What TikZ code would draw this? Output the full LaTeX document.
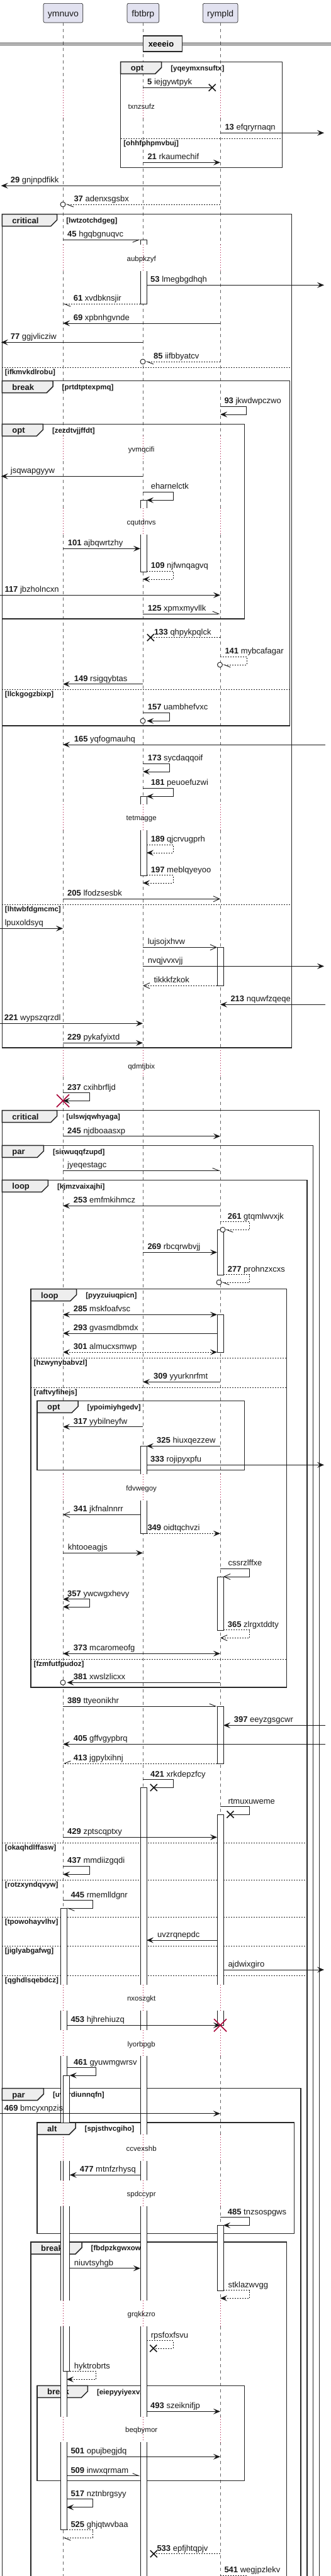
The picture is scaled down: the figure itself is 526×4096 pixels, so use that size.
\documentclass[tikz,border=0pt]{standalone}
\usepackage{fontspec}
\setmainfont{Liberation Sans}
\usetikzlibrary{arrows.meta}
\definecolor{partfill}{HTML}{E2E2F0}
\definecolor{tabfill}{HTML}{EEEEEE}
\definecolor{ink}{HTML}{181818}
\definecolor{delayred}{HTML}{A80036}
\newcounter{sqn}
\newcommand{\sqmsg}[6][]{\draw[msgln,#1] (#2,#4) -- (#3,#4);%
  \stepcounter{sqn}\node[msglbl] (m\arabic{sqn}) at (#5,#4-4.5) {#6};}
\newcommand{\sqself}[8][]{\draw[msgln,#1] (#2,#4) -- (#3,#4) -- (#3,#5) -- (#6,#5);%
  \stepcounter{sqn}\node[msglbl] (m\arabic{sqn}) at (#7,#4-4.5) {#8};}
\newcommand{\sqx}[2]{\draw[ink,line width=1.6pt] (#1-5.5,#2-5.5) -- (#1+5.5,#2+5.5) (#1-5.5,#2+5.5) -- (#1+5.5,#2-5.5);}
\newcommand{\sqkill}[2]{\draw[delayred,line width=1.6pt] (#1-10,#2-10) -- (#1+10,#2+10) (#1-10,#2+10) -- (#1+10,#2-10);}
\newcommand{\sqcirc}[2]{\draw[ink,line width=0.9pt,fill=white] (#1,#2) circle[radius=4];}
\newcommand{\sqdelay}[2]{\stepcounter{sqn}\node[dlbl] (d\arabic{sqn}) at (224.7,#1) {#2};}
\newcommand{\sqframe}[7]{\draw[frm] (#1,#2) rectangle (#3,#4);%
  \draw[frm,fill=tabfill] (#1,#2) -- (#1+#5,#2) -- (#1+#5,#2+9) -- (#1+#5-10,#2+19) -- (#1,#2+19) -- cycle;%
  \stepcounter{sqn}\node[tablbl] (t\arabic{sqn}) at (#1+16,#2+14.3) {#6};%
  \node[guardlbl] (g\arabic{sqn}) at (#1+#5+14.5,#2+13.7) {#7};}
\newcommand{\sqsep}[4]{\draw[sepline] (#1,#3) -- (#2,#3);%
  \stepcounter{sqn}\node[guardlbl] (s\arabic{sqn}) at (#1+4.5,#3+11) {#4};}
\newcommand{\actF}[3]{\draw[actbox,fill=white] (#1-5,#2) rectangle (#1+5,#3);}
\newcommand{\actT}[3]{\fill[white] (#1-5,#2) rectangle (#1+5,#3);\draw[actbox] (#1-5,#3) -- (#1-5,#2) -- (#1+5,#2) -- (#1+5,#3);}
\newcommand{\actB}[3]{\fill[white] (#1-5,#2) rectangle (#1+5,#3);\draw[actbox] (#1-5,#2) -- (#1-5,#3) -- (#1+5,#3) -- (#1+5,#2);}
\newcommand{\actN}[3]{\fill[white] (#1-5,#2) rectangle (#1+5,#3);\draw[actbox] (#1-5,#2) -- (#1-5,#3) (#1+5,#2) -- (#1+5,#3);}
\begin{document}
\begin{tikzpicture}[x=1pt,y=-1pt,
  msgln/.style={draw=ink,line width=0.9pt},
  dsh/.style={dash pattern=on 2pt off 2pt},
  hfull/.style={-{Stealth[length=11pt,width=9pt,inset=4.5pt]}},
  hopen/.style={-{Straight Barb[length=10pt,width=9pt]}},
  hhalfL/.style={-{Straight Barb[length=10pt,width=8pt,left]}},
  hhalfR/.style={-{Straight Barb[length=10pt,width=8pt,right]}},
  hboth/.style={{Stealth[length=11pt,width=9pt,inset=4.5pt]}-{Stealth[length=11pt,width=9pt,inset=4.5pt]}},
  msglbl/.style={anchor=base west,inner sep=0pt,font=\fontsize{13}{15}\selectfont,text=ink},
  guardlbl/.style={anchor=base west,inner sep=0pt,font=\fontsize{11.5}{13}\selectfont\bfseries,text=ink},
  tablbl/.style={anchor=base west,inner sep=0pt,font=\fontsize{13}{15}\selectfont\bfseries,text=ink},
  dlbl/.style={anchor=base,inner sep=0pt,font=\fontsize{11.5}{13}\selectfont,text=ink},
  frm/.style={draw=black!85,line width=1.5pt},
  sepline/.style={draw=black!85,line width=0.8pt,dash pattern=on 2pt off 2pt},
  lifeln/.style={draw=black!60,line width=0.7pt,dash pattern=on 5pt off 5pt},
  dly/.style={draw=delayred,line width=0.8pt,dash pattern=on 1pt off 3pt},
  actbox/.style={draw=ink,line width=0.9pt},
  partbox/.style={draw=ink,line width=0.6pt,fill=partfill,rounded corners=2.5pt,minimum height=30.7pt,inner sep=0pt},
  parttxt/.style={anchor=base,inner sep=0pt,font=\fontsize{14}{16}\selectfont,text=ink}]
\useasboundingbox (0,0) rectangle (526,4096);
\clip (0,0) rectangle (526,4096);
\fill[white] (0,0) rectangle (526,4096);
% participants
\node[partbox,minimum width=62.7pt] (ymnuvo) at (100.35,20.65) {};
\node[parttxt] (ymnuvoT) at (100.35,26) {ymnuvo};
\node[partbox,minimum width=50.7pt] (fbtbrp) at (227.35,20.65) {};
\node[parttxt] (fbtbrpT) at (227.35,26) {fbtbrp};
\node[partbox,minimum width=55.7pt] (rympld) at (350.15,20.65) {};
\node[parttxt] (rympldT) at (350.15,26) {rympld};
% lifelines
\foreach \lx in {100,227,350}{
  \foreach \ya/\yb in {36/143,188/389.3,430.7/693.3,733.3/808.3,850/1279.3,1320/1670,1712/2344.3,2386/3155.7,3196.7/3228,3269.3/3394.3,3436/3466.7,3508.3/3657.7,3699/3842.7,3883.3/4100}
    \draw[lifeln] (\lx,\ya) -- (\lx,\yb);
  \foreach \ya/\yb in {143/188,389.3/430.7,693.3/733.3,808.3/850,1279.3/1320,1670/1712,2344.3/2386,3155.7/3196.7,3228/3269.3,3394.3/3436,3466.7/3508.3,3657.7/3699,3842.7/3883.3}
    \draw[dly] (\lx,\ya) -- (\lx,\yb);
}
% divider
\draw[ink,line width=0.8pt] (0,68.7) -- (227.3,68.7) (289.7,68.7) -- (526,68.7) (0,71.3) -- (227.3,71.3) (289.7,71.3) -- (526,71.3);
\node[draw=black!85,line width=1.5pt,fill=tabfill,minimum width=62.4pt,minimum height=25pt,inner sep=0pt] (div) at (258.5,69.5) {};
\node[anchor=base,inner sep=0pt,font=\fontsize{13}{15}\selectfont\bfseries] (divT) at (256,74.5) {xeeeio};
% frames
\sqframe{191.7}{98.3}{448.7}{266.7}{65}{opt}{[yqeymxnsuftx]}
\sqsep{191.7}{448.7}{220.3}{[ohhfphpmvbuj]}
\sqframe{3.3}{340.7}{463.3}{1666}{87.4}{critical}{[lwtzotchdgeg]}
\sqsep{3.3}{463.3}{584.3}{[ifkmvkdlrobu]}
\sqsep{3.3}{463.3}{1438.3}{[lhtwbfdgmcmc]}
\sqframe{3.3}{605.7}{460.7}{1154}{80.7}{break}{[prtdtptexpmq]}
\sqsep{3.3}{460.7}{1096.3}{[llckgogzbixp]}
\sqframe{3.3}{674.3}{388.3}{984}{65}{opt}{[zezdtvjjffdt]}
\sqframe{3.3}{1765.7}{507.3}{4120}{87.4}{critical}{[ulswjqwhyaga]}
\sqframe{3.3}{1821.3}{497.3}{4120}{66}{par}{[sirwuqqfzupd]}
\sqframe{3.3}{1876.3}{488}{4120}{73}{loop}{[kjmzvaixajhi]}
\sqsep{3.3}{488}{2930.3}{[okaqhdlffasw]}
\sqsep{3.3}{488}{2989.3}{[rotzxyndqvyw]}
\sqsep{3.3}{488}{3048.3}{[tpowohayvlhv]}
\sqsep{3.3}{488}{3094}{[jiglyabgafwg]}
\sqsep{3.3}{488}{3141}{[qghdlsqebdcz]}
\sqframe{49}{2049.7}{455.7}{2683}{72.7}{loop}{[pyyzuiuqpicn]}
\sqsep{49}{455.7}{2159}{[hzwynybabvzl]}
\sqsep{49}{455.7}{2206}{[raftvyfihejs]}
\sqsep{49}{455.7}{2638}{[fzmfutfpudoz]}
\sqframe{59}{2227.3}{388.3}{2337.3}{65}{opt}{[ypoimiyhgedv]}
\sqframe{3.3}{3320.7}{478}{4120}{66}{par}{[uvurdiunnqfn]}
\sqframe{59}{3375}{467.3}{3551.7}{61}{alt}{[spjsthvcgiho]}
\sqframe{49}{3565}{455.7}{4120}{81}{break}{[fbdpzkgwxowh]}
\sqframe{59}{3793.3}{388.3}{3944.3}{80.3}{break}{[eiepyyiyexvz]}
% activations
\actT{228}{381.3}{389.3} \actB{228}{430.7}{483.3}
\actT{228}{795.3}{808.3} \actB{228}{850}{909.3}
\actT{228}{1266.3}{1279.3} \actB{228}{1320}{1392.3}
\actF{350}{1506.3}{1567.3}
\actF{350}{1955.3}{2027.3}
\actF{350}{2090.3}{2150}
\actT{228}{2299.3}{2344.3} \actB{228}{2386}{2438.3}
\actF{350}{2507}{2592}
\actF{350}{2713}{2804.3}
\actT{228}{2842.3}{3155.7} \actN{228}{3196.7}{3228} \actN{228}{3269.3}{3394.3} \actN{228}{3436}{3466.7} \actN{228}{3508.3}{3657.7} \actN{228}{3699}{3842.7} \actN{228}{3883.3}{4110}
\actT{350}{2885}{3155.7} \actB{350}{3196.7}{3220.3}
\actT{101}{3034.3}{3155.7} \actN{101}{3196.7}{3228} \actN{101}{3269.3}{3375} \actN{101}{3436}{3466.7} \actN{101}{3508.3}{3657.7} \actN{101}{3699}{3842.7} \actB{101}{3883.3}{4022.7}
\actT{105.7}{3300}{3375} \actN{105.7}{3436}{3466.7} \actN{105.7}{3508.3}{3657.7} \actB{105.7}{3699}{3770.7}
\actF{350}{3538.3}{3642.3}
% messages
\sqmsg{227}{337.3}{139.3}{234}{\textbf{5} iejgywtpyk} \sqx{337.3}{139.3}
\sqdelay{173.3}{txnzsufz}
\sqmsg[hfull]{350}{515}{211.3}{357.3}{\textbf{13} efqryrnaqn}
\sqmsg[hfull]{227}{350}{258.3}{234.3}{\textbf{21} rkaumechif}
\sqmsg[hfull]{350}{1.7}{295.3}{16.7}{\textbf{29} gnjnpdfikk}
\sqmsg[dsh,hhalfL]{350}{104.5}{325}{117.3}{\textbf{37} adenxsgsbx} \sqcirc{100}{325}
\sqmsg[hhalfR]{100}{223}{381.3}{107}{\textbf{45} hgqbgnuqvc}
\sqdelay{415}{aubpkzyf}
\sqmsg[hfull]{233}{515}{453.3}{239}{\textbf{53} lmegbgdhqh}
\sqmsg[dsh,hhalfL]{223}{100}{483.3}{116.7}{\textbf{61} xvdbknsjir}
\sqmsg[hfull]{350}{100}{514}{116.7}{\textbf{69} xpbnhgvnde}
\sqmsg[hfull]{227}{1.7}{544.3}{16.7}{\textbf{77} ggjvlicziw}
\sqmsg[dsh,hhalfL]{350}{231.5}{575}{244}{\textbf{85} iifbbyatcv} \sqcirc{227}{575}
\sqself[hfull]{350}{391.7}{646.3}{659}{350}{356.3}{\textbf{93} jkwdwpczwo}
\sqdelay{718}{yvmqcifi}
\sqmsg[hfull]{227}{1.7}{757.3}{16.7}{jsqwapgyyw}
\sqself[hfull]{227}{275}{782.3}{795.3}{233}{239.7}{eharnelctk}
\sqdelay{834}{cqutdnvs}
\sqmsg[hfull]{100}{223}{872.3}{107.7}{\textbf{101} ajbqwrtzhy}
\sqself[dsh,hfull]{233}{275}{908.3}{921}{227}{239.7}{\textbf{109} njfwnqagvq}
\sqmsg[hfull]{0}{350}{946.3}{7.3}{\textbf{117} jbzholncxn}
\sqmsg[hhalfL]{227}{350}{976}{234.7}{\textbf{125} xpmxmyvllk}
\sqmsg[dsh]{350}{239.3}{1013.7}{245}{\textbf{133} qhpykpqlck} \sqx{239.3}{1013.7}
\sqself[dsh,hhalfL]{350}{392}{1044.3}{1057}{354}{357.3}{\textbf{141} mybcafagar} \sqcirc{349.5}{1057}
\sqmsg[hfull]{227}{100}{1087.7}{117.7}{\textbf{149} rsigqybtas}
\sqself[hfull]{227}{269.7}{1133.3}{1146.3}{233.3}{234.7}{\textbf{157} uambhefvxc} \sqcirc{227}{1146.3}
\sqmsg[hfull]{517}{100}{1184}{117.7}{\textbf{165} yqfogmauhq}
\sqself[hfull]{227}{269.7}{1214}{1227}{227}{234.7}{\textbf{173} sycdaqqoif}
\sqself[hfull]{227}{275}{1253.3}{1266.3}{233}{239.7}{\textbf{181} peuoefuzwi}
\sqdelay{1304}{tetmagge}
\sqself[dsh,hfull]{233}{275}{1343.3}{1356}{233}{239.7}{\textbf{189} qjcrvugprh}
\sqself[dsh,hfull]{233}{275}{1391.7}{1404}{227}{239.7}{\textbf{197} meblqyeyoo}
\sqmsg[hopen]{100}{350}{1429.3}{107}{\textbf{205} lfodzsesbk}
\sqmsg[hfull]{0}{100}{1476.3}{7.3}{lpuxoldsyq}
\sqmsg[hopen]{227}{345}{1506.3}{234.7}{lujsojxhvw}
\sqmsg[hfull]{227}{515}{1536.3}{234.7}{nvqjvvxvjj}
\sqmsg[dsh,hopen]{345}{227}{1567.3}{244.3}{tikkkfzkok}
\sqmsg[hfull]{517}{350}{1597.3}{366.3}{\textbf{213} nquwfzqeqe}
\sqmsg[hfull]{0}{227}{1627.3}{6.7}{\textbf{221} wypszqrzdl}
\sqmsg[hfull]{100}{227}{1658.3}{107}{\textbf{229} pykafyixtd}
\sqdelay{1699}{qdmtjbix}
\sqself[hfull]{100}{142.7}{1737.7}{1750.3}{100}{107}{\textbf{237} cxihbrfljd} \sqkill{100}{1750.3}
\sqmsg[hfull]{100}{350}{1806.7}{107}{\textbf{245} njdboaasxp}
\sqmsg[hhalfL]{100}{350}{1861.3}{107}{jyeqestagc}
\sqmsg[hfull]{350}{100}{1917.3}{116.7}{\textbf{253} emfmkihmcz}
\sqself[dsh,hhalfL]{350}{396.7}{1942.7}{1955.3}{358}{361.7}{\textbf{261} gtqmlwvxjk} \sqcirc{354}{1955.3}
\sqmsg[hfull]{227}{345}{1991.3}{234.3}{\textbf{269} rbcqrwbvjj}
\sqself[dsh,hhalfL]{355}{396.7}{2026.7}{2039}{352}{361.7}{\textbf{277} prohnzxcxs} \sqcirc{348}{2039}
\sqmsg[hboth]{100}{345}{2090.3}{116.7}{\textbf{285} mskfoafvsc}
\sqmsg[hfull]{345}{100}{2120}{116.7}{\textbf{293} gvasmdbmdx}
\sqmsg[dsh,hboth]{100}{345}{2150}{116.7}{\textbf{301} almucxsmwp}
\sqmsg[hfull]{350}{227}{2197.3}{244}{\textbf{309} yyurknrfmt}
\sqmsg[hfull]{227}{100}{2268.7}{116.7}{\textbf{317} yybilneyfw}
\sqmsg[hfull]{350}{233}{2299.3}{249}{\textbf{325} hiuxqezzew}
\sqmsg[hfull]{233}{515}{2329.3}{239}{\textbf{333} rojipyxpfu}
\sqdelay{2370}{fdvwegoy}
\sqmsg[hopen]{223}{100}{2408.3}{116.7}{\textbf{341} jkfnalnnrr}
\sqmsg[dsh,hfull]{233}{350}{2438.3}{234.3}{\textbf{349} oidtqchvzi}
\sqmsg[hfull]{100}{227}{2469.3}{107.7}{khtooeagjs}
\sqself[hopen]{350}{396.7}{2494.3}{2507}{355}{362.3}{cssrzlffxe}
\sqself[hboth]{100}{142.7}{2542.7}{2555}{100}{107}{\textbf{357} ywcwgxhevy}
\sqself[dsh,hopen]{355}{396.7}{2591.7}{2604.3}{350}{361.7}{\textbf{365} zlrgxtddty}
\sqmsg[hboth]{100}{350}{2629.3}{116.7}{\textbf{373} mcaromeofg}
\sqmsg[hfull]{350}{106.5}{2675.3}{116.7}{\textbf{381} xwslzlicxx} \sqcirc{100}{2675.3}
\sqmsg[hhalfL]{100}{345}{2713}{107}{\textbf{389} ttyeonikhr}
\sqmsg[hfull]{517}{355}{2743.3}{371.7}{\textbf{397} eeyzgsgcwr}
\sqmsg[hfull]{517}{100}{2773.3}{116.7}{\textbf{405} gffvgypbrq}
\sqmsg[dsh,hhalfR]{345}{100}{2804}{116.7}{\textbf{413} jgpylxihnj}
\sqself{227}{275}{2829.7}{2842.3}{244.3}{239}{\textbf{421} xrkdepzfcy} \sqx{244.3}{2842.3}
\sqself{350}{396.7}{2872.7}{2885}{366}{362.3}{rtmuxuweme} \sqx{366}{2885}
\sqmsg[hfull]{100}{345}{2921.3}{107}{\textbf{429} zptscqptxy}
\sqself[hfull]{100}{142.7}{2967.3}{2980.3}{100}{107}{\textbf{437} mmdiizgqdi}
\sqself[hhalfL]{100}{147.3}{3021.7}{3034.3}{106}{112.3}{\textbf{445} rmemlldgnr}
\sqmsg[hfull]{345}{233}{3085}{250}{uvzrqnepdc}
\sqmsg[hfull]{355}{515}{3132}{362.3}{ajdwixgiro}
\sqdelay{3181.3}{nxoszgkt}
\sqmsg[hfull]{106}{350}{3220.3}{112.3}{\textbf{453} hjhrehiuzq} \sqkill{350}{3220.3}
\sqdelay{3254}{lyorbpgb}
\sqself[hfull]{106}{152.3}{3287.7}{3300}{110.7}{117}{\textbf{461} gyuwmgwrsv}
\sqmsg[hfull]{0}{350}{3360.7}{6.7}{\textbf{469} bmcyxnpzis}
\sqdelay{3420}{ccvexshb}
\sqmsg[hfull]{223}{110.7}{3458.3}{126.7}{\textbf{477} mtnfzrhysq}
\sqdelay{3492.3}{spdccypr}
\sqself[hfull]{350}{396.7}{3525.7}{3538.3}{355}{361.7}{\textbf{485} tnzsospgws}
\sqmsg[hfull]{110.7}{223}{3606.7}{117.7}{niuvtsyhgb}
\sqself[dsh,hfull]{355}{396.7}{3641.7}{3654.3}{350}{362.3}{stklazwvgg}
\sqdelay{3683.3}{grqkkzro}
\sqself[dsh]{233}{275}{3721.7}{3734}{243.7}{239.7}{rpsfoxfsvu} \sqx{243.7}{3734}
\sqself[dsh,hfull]{110.7}{152.7}{3770.7}{3783.3}{106}{117.7}{hyktrobrts}
\sqmsg[hfull]{233}{350}{3834.3}{239}{\textbf{493} szeiknifjp}
\sqdelay{3867.3}{beqbymor}
\sqmsg[hfull]{106}{350}{3906.3}{112.3}{\textbf{501} opujbegjdq}
\sqmsg[hhalfL]{106}{223}{3936.7}{112.3}{\textbf{509} inwxqrmam}
\sqself[hfull]{106}{147.3}{3973.7}{3986.7}{106}{112.3}{\textbf{517} nztnbrgsyy}
\sqself[dsh,hhalfL]{106}{147.3}{4022.7}{4035.3}{100}{112.3}{\textbf{525} ghjqtwvbaa}
\sqmsg[dsh]{350}{244.3}{4060.7}{249.3}{\textbf{533} epfjhtqpjv} \sqx{244.3}{4060.7}
\sqself[dsh]{350}{392}{4095}{4110}{350}{356.3}{\textbf{541} wegjpzlekv}
\end{tikzpicture}
\end{document}
